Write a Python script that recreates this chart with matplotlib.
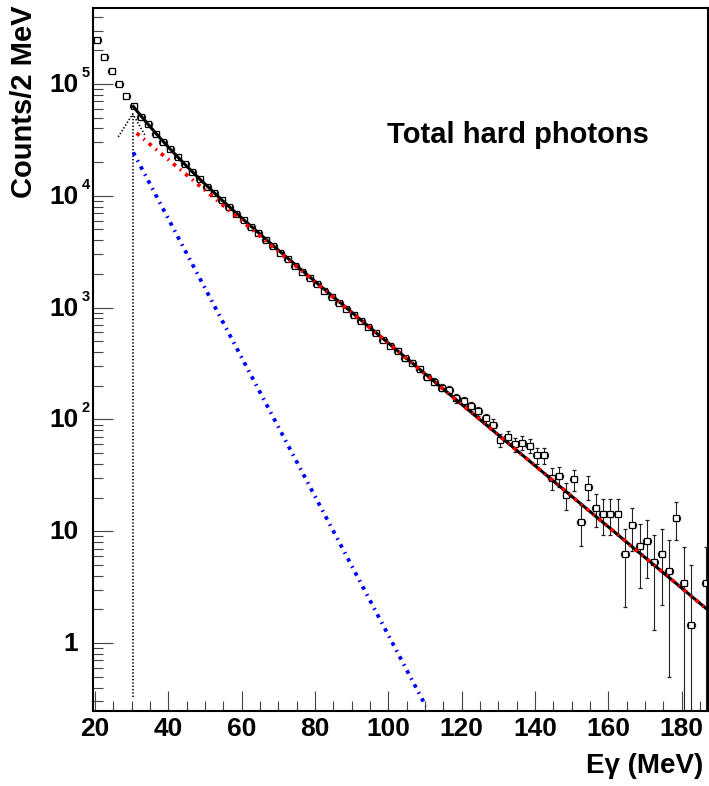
import numpy as np
import matplotlib
matplotlib.use('Agg')
import matplotlib.pyplot as plt
from matplotlib.ticker import MultipleLocator, LogLocator, NullFormatter

plt.rcParams['font.family'] = ['Liberation Sans', 'DejaVu Sans']
plt.rcParams['font.weight'] = 'bold'
plt.rcParams['lines.scale_dashes'] = False

# histogram bins (2 MeV wide)
energy = np.arange(20.6, 187.0, 2.0)
counts = [2.49e5, 1.75e5, 1.30e5, 9.9e4, 7.8e4, 6.36e4, 5.1e4, 4.35e4, 3.6e4, 3.05e4,
          2.62e4, 2.2e4, 1.92e4, 1.62e4, 1.41e4, 1.21e4, 1.06e4, 9.1e3, 8.0e3, 6.9e3,
          6.1e3, 5.25e3, 4.6e3, 4.05e3, 3.55e3, 3.1e3, 2.72e3, 2.35e3, 2.08e3, 1.83e3,
          1.62e3, 1.40e3, 1.25e3, 1.10e3, 975, 850, 760, 665, 590, 515,
          455, 410, 352, 322, 280, 240, 218, 192, 183, 154,
          147, 132, 119, 102, 90, 65.5, 70, 60, 62, 58,
          48, 48, 30.1, 31.2, 21.1, 29.1, 12.2, 25.0, 16.2, 14.3,
          14.3, 14.3, 6.3, 11.4, 7.4, 8.2, 5.3, 6.3, 4.4, 13.2,
          3.42, 1.44, np.nan, 3.42]
errors = [499, 418, 361, 315, 279, 252, 226, 209, 190, 175,
          162, 148, 139, 127, 119, 110, 103, 95, 89, 83,
          78, 73, 68, 64, 60, 56, 52, 49, 46, 43,
          40, 38, 36, 33, 31, 29, 28, 26, 25, 23,
          22, 21, 19, 18, 17, 16, 15, 14, 14, 13,
          13, 12, 11.4, 10.6, 10, 8.8, 9, 8.4, 8.6, 8.3,
          7.7, 7.7, 6.5, 6.5, 5.7, 6.3, 4.8, 6.0, 5.2, 5.0,
          5.0, 5.0, 4.2, 4.8, 4.3, 4.4, 4.0, 4.1, 3.9, 4.9,
          3.85, 3.56, np.nan, 3.85]

# fit curves
total_e = [30.45, 32.6, 34.6, 36.6, 38.6, 40.6, 42.6, 44.6, 46.6, 48.6, 54.6, 60.6, 70.6, 80.6, 100.6, 140.6, 187.2]
total_y = [62910, 51570, 43120, 36265, 30640, 26030, 22190, 19000, 16335, 14085, 9174, 6083, 3143, 1651, 464, 37.2, 1.972]
red_e = [31.37, 187.2]
red_y = [36308, 1.972]
blue_e = [30.45, 110.3]
blue_y = [24430, 0.2704]
thr_e = [26.35, 30.3, 33.6]
thr_y = [3.36e4, 5.4e4, 3.5e4]
cut_e = [30.3, 30.3]
cut_y = [0.33, 5.3e4]

counts = np.array(counts)
errors = np.array(errors)
lower = np.where(counts - errors > 0, errors, counts - 1e-3)

W, H = 709, 786
fig = plt.figure(figsize=(W / 100, H / 100), dpi=100)
ax = fig.add_axes([93.3 / W, 1 - 711 / H, (708 - 93.3) / W, (711 - 8) / H])
ax.set_yscale('log')
ax.set_xlim(19.55, 187.2)
ax.set_ylim(0.2466, 4.78e5)

ax.errorbar(energy, counts, yerr=[lower, errors], xerr=1, fmt='s', ms=4.5,
            mfc='white', mec='black', mew=0.9, ecolor='#222222', elinewidth=0.8,
            capsize=1.2, zorder=2)

ax.plot(total_e, total_y, color='black', lw=2.2, zorder=3)
ax.plot(red_e, red_y, color='red', lw=2.7, dashes=(2.6, 3.8, 1.2, 3.8), zorder=4)
ax.plot(blue_e, blue_y, color='blue', lw=2.7, dashes=(2.6, 3.8, 1.2, 3.8), zorder=4)
ax.plot(thr_e, thr_y, color='black', lw=1.2, ls=(0, (1, 1.4)), zorder=3)
ax.plot(cut_e, cut_y, color='black', lw=1.2, ls=(0, (1, 1.4)), zorder=3)

# axes / ticks
for s in ax.spines.values():
    s.set_linewidth(1.5)
ax.xaxis.set_major_locator(MultipleLocator(20))
ax.xaxis.set_minor_locator(MultipleLocator(5))
ax.yaxis.set_major_locator(LogLocator(base=10, numticks=20))
ax.yaxis.set_minor_locator(LogLocator(base=10, subs=np.arange(2, 10), numticks=20))
ax.yaxis.set_major_formatter(NullFormatter())
ax.yaxis.set_minor_formatter(NullFormatter())
ax.tick_params(which='both', direction='in', top=False, right=False, color='#444444', width=0.8)
ax.tick_params(which='major', length=14.4)
ax.tick_params(which='minor', length=7.2)
ax.tick_params(axis='x', which='major', labelsize=19, pad=4)
for lab in ax.get_xticklabels():
    lab.set_fontweight('bold')

# ROOT-style y labels
for p in range(0, 6):
    v = 10.0 ** p
    if p < 2:
        ax.annotate(str(int(v)), xy=(0, v), xycoords=('axes fraction', 'data'),
                    xytext=(-15, -1), textcoords='offset pixels', ha='right', va='center',
                    fontsize=19, fontweight='bold')
    else:
        ax.annotate('10', xy=(0, v), xycoords=('axes fraction', 'data'),
                    xytext=(-15, -1), textcoords='offset pixels', ha='right', va='center',
                    fontsize=19, fontweight='bold')
        ax.annotate(str(p), xy=(0, v), xycoords=('axes fraction', 'data'),
                    xytext=(-11.5, 7), textcoords='offset pixels', ha='left', va='baseline',
                    fontsize=10.5, fontweight='bold')

fig.text(24 / W, 1 - 5 / H, 'Counts/2 MeV', rotation=90, ha='center', va='top',
         fontsize=21, fontweight='bold')
fig.text(703 / W, 1 - 766 / H, 'E\u03b3 (MeV)', ha='right', va='center',
         fontsize=20, fontweight='bold')
fig.text(518 / W, 1 - 135 / H, 'Total hard photons', ha='center', va='center',
         fontsize=21, fontweight='bold')

fig.savefig('out.png', dpi=100)
